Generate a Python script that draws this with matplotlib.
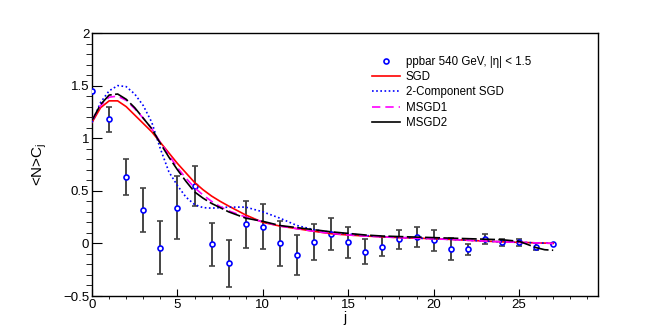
import matplotlib
matplotlib.use('Agg')
import matplotlib.pyplot as plt
from matplotlib.ticker import MultipleLocator

plt.rcParams['font.family'] = ['Liberation Sans', 'DejaVu Sans']

# measured <N>C_j, ppbar 540 GeV
j_data = list(range(28))
c_data = [1.45, 1.18, 0.63, 0.32, -0.04, 0.34, 0.55, -0.01, -0.19, 0.18,
          0.16, 0.00, -0.11, 0.01, 0.09, 0.01, -0.08, -0.03, 0.04, 0.065,
          0.03, -0.055, -0.057, 0.04, 0.01, 0.01, -0.03, -0.005]
c_err = [0.0, 0.12, 0.17, 0.21, 0.25, 0.30, 0.19, 0.20, 0.22, 0.22,
         0.21, 0.21, 0.19, 0.17, 0.15, 0.15, 0.12, 0.09, 0.09, 0.095,
         0.10, 0.105, 0.05, 0.05, 0.03, 0.03, 0.03, 0.0]

# model curves
j_fit = [0, 0.5, 1, 1.5, 2, 2.5, 3, 3.5, 4, 4.5, 5, 5.5, 6, 6.5, 7, 7.5, 8,
         9, 10, 11, 12, 13, 14, 15, 16, 17, 18, 19, 20, 21, 22, 23, 24, 25,
         25.5, 26, 26.5, 27]
sgd = [1.15, 1.29, 1.355, 1.355, 1.30, 1.22, 1.14, 1.06, 0.96, 0.86, 0.76,
       0.67, 0.58, 0.51, 0.45, 0.40, 0.355, 0.27, 0.20, 0.165, 0.14, 0.115,
       0.092, 0.08, 0.07, 0.063, 0.055, 0.05, 0.045, 0.038, 0.03, 0.022,
       0.015, 0.01, 0.008, 0.005, 0.003, 0.0]
sgd2 = [1.15, 1.34, 1.45, 1.50, 1.49, 1.42, 1.31, 1.15, 0.90, 0.68, 0.55,
        0.44, 0.37, 0.34, 0.335, 0.34, 0.345, 0.345, 0.30, 0.24, 0.17, 0.13,
        0.105, 0.09, 0.075, 0.065, 0.057, 0.05, 0.045, 0.038, 0.03, 0.022,
        0.015, 0.01, 0.008, 0.005, 0.003, 0.0]
msgd1 = [1.17, 1.31, 1.39, 1.40, 1.36, 1.28, 1.19, 1.09, 0.96, 0.84, 0.72,
         0.62, 0.53, 0.46, 0.40, 0.35, 0.31, 0.25, 0.205, 0.165, 0.14, 0.115,
         0.095, 0.08, 0.07, 0.062, 0.055, 0.05, 0.044, 0.037, 0.03, 0.022,
         0.015, 0.01, 0.008, 0.005, 0.003, 0.0]
msgd2 = [1.17, 1.32, 1.41, 1.42, 1.37, 1.29, 1.19, 1.09, 0.95, 0.82, 0.70,
         0.59, 0.49, 0.43, 0.38, 0.34, 0.30, 0.24, 0.21, 0.17, 0.15, 0.13,
         0.11, 0.095, 0.08, 0.07, 0.065, 0.06, 0.055, 0.05, 0.045, 0.04,
         0.035, 0.02, -0.01, -0.04, -0.06, -0.065]

fig = plt.figure(figsize=(6.64, 3.30), dpi=100)
ax = fig.add_axes([0.1386, 0.103, 0.7614, 0.797])

ax.errorbar(j_data, c_data, yerr=c_err, fmt='none', ecolor='#444444',
            elinewidth=1.4, capsize=2.5, capthick=1.2, zorder=2)
ax.plot(j_data, c_data, 'o', ms=3.6, mfc='white', mec='blue', mew=1.2,
        ls='none', zorder=3, label='ppbar 540 GeV, |\u03b7| < 1.5')

ax.plot(j_fit, sgd, color='red', lw=1.2, label='SGD', zorder=4)
ax.plot(j_fit, sgd2, color='blue', lw=1.2, ls=(0, (1, 1.5)),
        label='2-Component SGD', zorder=4)
ax.plot(j_fit, msgd1, color='magenta', lw=1.2, ls=(0, (5, 3)),
        label='MSGD1', zorder=4)
l2, = ax.plot(j_fit, msgd2, color='black', lw=1.2, label='MSGD2', zorder=5)
l2.set_dashes((9, 2))

ax.set_xlim(0, 29.6)
ax.set_ylim(-0.5, 2)
ax.xaxis.set_major_locator(MultipleLocator(5))
ax.xaxis.set_minor_locator(MultipleLocator(1))
ax.yaxis.set_major_locator(MultipleLocator(0.5))
ax.yaxis.set_minor_locator(MultipleLocator(0.1))
ax.tick_params(axis='both', direction='in', labelsize=9.5, pad=2)
ax.tick_params(axis='x', which='major', length=5)
ax.tick_params(axis='x', which='minor', length=2.5)
ax.tick_params(axis='y', which='major', length=7)
ax.tick_params(axis='y', which='minor', length=4)
ax.tick_params(top=False, right=False, which='both')
ax.set_yticks([-0.5, 0, 0.5, 1, 1.5, 2])
ax.set_yticklabels(['\u22120.5', '0', '0.5', '1', '1.5', '2'])

for s in ax.spines.values():
    s.set_linewidth(1.0)

ax.set_xlabel('j', fontsize=10, labelpad=0)
ax.set_ylabel('<N>C$_{\\mathregular{j}}$', fontsize=11, labelpad=10)

leg = ax.legend(loc='upper left', bbox_to_anchor=(0.552, 0.848),
                bbox_transform=fig.transFigure, frameon=False, fontsize=8.3,
                handlelength=2.4, handletextpad=0.5, labelspacing=0.28,
                borderpad=0, numpoints=1)
leg.get_lines()[-1].set_linestyle('-')

plt.savefig('out.png', dpi=100)
